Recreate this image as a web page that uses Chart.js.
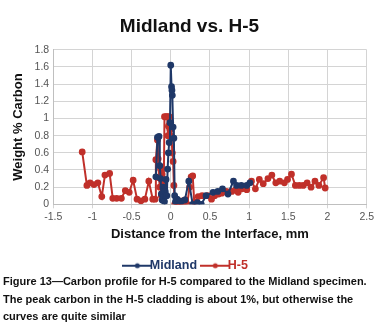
<!DOCTYPE html>
<html>
<head>
<meta charset="utf-8">
<script src="https://cdn.jsdelivr.net/npm/chart.js@4/dist/chart.umd.min.js"></script>
<style>
  html, body { margin: 0; padding: 0; background: #fff; }
  #wrap { position: relative; width: 377px; height: 290px; }
  #caption {
    position: absolute; left: 3px; top: 273px; width: 374px;
    font: bold 11px "Liberation Sans", Arial, sans-serif;
    line-height: 17.5px; color: #111;
  }
</style>
</head>
<body>
<div id="wrap"><canvas id="grafico" width="377" height="290"></canvas></div>
<div id="caption">Figure 13—Carbon profile for H-5 compared to the Midland specimen. The peak carbon in the H-5 cladding is about 1%, but otherwise the curves are quite similar</div>
<script>
const $ = id => document.getElementById(id);

// valores
const midlandX = [-0.19, -0.17, -0.15, -0.14, -0.13, -0.12, -0.11, -0.10, -0.09, -0.08, -0.07, -0.06, -0.05, -0.04, -0.03, -0.02, -0.01, 0.0, 0.01, 0.015, 0.02, 0.03, 0.04, 0.05, 0.06, 0.08, 0.11, 0.13, 0.18, 0.23, 0.28, 0.34, 0.39, 0.45, 0.54, 0.60, 0.66, 0.73, 0.80, 0.84, 0.90, 0.97, 1.01];
const midlandY = [0.32, 0.78, 0.79, 0.45, 0.30, 0.12, 0.05, 0.20, 0.08, 0.03, 0.15, 0.29, 0.10, 0.41, 0.60, 0.72, 0.95, 1.62, 1.37, 1.33, 1.27, 0.90, 0.77, 0.10, 0.03, 0.06, 0.04, 0.03, 0.05, 0.27, 0.00, 0.02, 0.00, 0.10, 0.14, 0.15, 0.18, 0.12, 0.27, 0.22, 0.22, 0.22, 0.25];

const h5X = [-1.13, -1.07, -1.03, -0.98, -0.93, -0.88, -0.84, -0.78, -0.74, -0.69, -0.63, -0.58, -0.53, -0.48, -0.43, -0.38, -0.33, -0.28, -0.23, -0.20, -0.19, -0.17, -0.16, -0.15, -0.14, -0.13, -0.12, -0.11, -0.10, -0.09, -0.08, -0.06, -0.045, -0.035, -0.03, -0.02, -0.01, 0.0, 0.01, 0.02, 0.03, 0.04, 0.05, 0.07, 0.09, 0.11, 0.13, 0.15, 0.17, 0.19, 0.21, 0.24, 0.26, 0.28, 0.30, 0.35, 0.40, 0.47, 0.52, 0.56, 0.61, 0.65, 0.71, 0.78, 0.83, 0.86, 0.91, 0.97, 1.03, 1.08, 1.13, 1.18, 1.24, 1.29, 1.34, 1.39, 1.45, 1.49, 1.54, 1.59, 1.64, 1.69, 1.74, 1.79, 1.84, 1.89, 1.95, 1.97];
const h5Y = [0.61, 0.22, 0.25, 0.23, 0.25, 0.09, 0.34, 0.36, 0.07, 0.07, 0.07, 0.16, 0.14, 0.28, 0.06, 0.04, 0.06, 0.27, 0.06, 0.06, 0.52, 0.75, 0.53, 0.31, 0.20, 0.41, 0.10, 0.35, 0.25, 0.15, 1.02, 1.02, 1.02, 0.80, 0.91, 1.02, 0.87, 0.95, 0.79, 0.60, 0.50, 0.22, 0.00, 0.02, 0.00, 0.03, 0.01, 0.04, 0.02, 0.05, 0.00, 0.20, 0.32, 0.33, 0.02, 0.09, 0.10, 0.10, 0.06, 0.10, 0.12, 0.13, 0.15, 0.15, 0.17, 0.14, 0.18, 0.17, 0.27, 0.18, 0.29, 0.24, 0.30, 0.34, 0.25, 0.27, 0.25, 0.29, 0.35, 0.22, 0.22, 0.22, 0.25, 0.20, 0.27, 0.22, 0.31, 0.19];

const xTicks = [-1.5, -1, -0.5, 0, 0.5, 1, 1.5, 2, 2.5];
const yTicks = [0, 0.2, 0.4, 0.6, 0.8, 1, 1.2, 1.4, 1.6, 1.8];

const corMidland = '#1f3868';
const corH5 = '#c0302a';
const fonte = '"Liberation Sans", Arial, sans-serif';

const pontos = (xs, ys) => xs.map((x, i) => ({ x, y: ys[i] }));
const fmt = v => String(+(+v).toFixed(1));

// marcador da legenda: linha com ponto no meio
const marcador = cor => {
  const c = document.createElement('canvas');
  c.width = 30; c.height = 8;
  const g = c.getContext('2d');
  g.strokeStyle = cor; g.lineWidth = 2;
  g.beginPath(); g.moveTo(0, 4); g.lineTo(30, 4); g.stroke();
  g.fillStyle = cor;
  g.beginPath(); g.arc(15, 4, 2.5, 0, Math.PI * 2); g.fill();
  return c;
};

const serie = (label, data, cor) => ({
  label, data, borderColor: cor, backgroundColor: cor,
  borderWidth: 2, pointRadius: 2.4, pointHoverRadius: 2.4,
  showLine: true, tension: 0
});

new Chart($('grafico').getContext('2d'), {
  type: 'scatter',
  data: {
    datasets: [
      serie('Midland', pontos(midlandX, midlandY), corMidland),
      serie('H-5', pontos(h5X, h5Y), corH5)
    ]
  },
  options: {
    responsive: false,
    animation: false,
    layout: { padding: { left: 11, right: 9, top: 13, bottom: 8 } },
    plugins: {
      title: {
        display: true, text: 'Midland vs. H-5', color: '#111',
        font: { family: fonte, size: 19, weight: 'bold' },
        padding: { top: 2, bottom: 12 }
      },
      legend: {
        position: 'bottom',
        labels: {
          usePointStyle: true,
          padding: 12,
          font: { family: fonte, size: 12.5, weight: 'bold' },
          generateLabels: chart => chart.data.datasets.map((d, i) => ({
            text: d.label, datasetIndex: i,
            pointStyle: marcador(d.borderColor),
            fontColor: d.borderColor,
            strokeStyle: d.borderColor, fillStyle: d.borderColor, lineWidth: 0
          }))
        }
      },
      tooltip: { enabled: false }
    },
    scales: {
      x: {
        type: 'linear', min: -1.5, max: 2.5,
        afterBuildTicks: ax => { ax.ticks = xTicks.map(value => ({ value })); },
        ticks: { callback: fmt, color: '#555', font: { family: fonte, size: 10.5 }, padding: 3 },
        grid: { color: '#d4d4d4', drawTicks: true, tickLength: 4 },
        border: { color: '#bfbfbf' },
        title: {
          display: true, text: 'Distance from the Interface, mm', color: '#111',
          font: { family: fonte, size: 13, weight: 'bold' }, padding: { top: 0, bottom: 5 }
        }
      },
      y: {
        min: 0, max: 1.8,
        afterBuildTicks: ax => { ax.ticks = yTicks.map(value => ({ value })); },
        ticks: { callback: fmt, color: '#555', font: { family: fonte, size: 10.5 }, padding: 4 },
        grid: { color: '#d4d4d4', drawTicks: false },
        border: { color: '#bfbfbf' },
        title: {
          display: true, text: 'Weight % Carbon', color: '#111',
          font: { family: fonte, size: 13, weight: 'bold' }, padding: { top: 0, bottom: 4 }
        }
      }
    }
  }
});
</script>
</body>
</html>
